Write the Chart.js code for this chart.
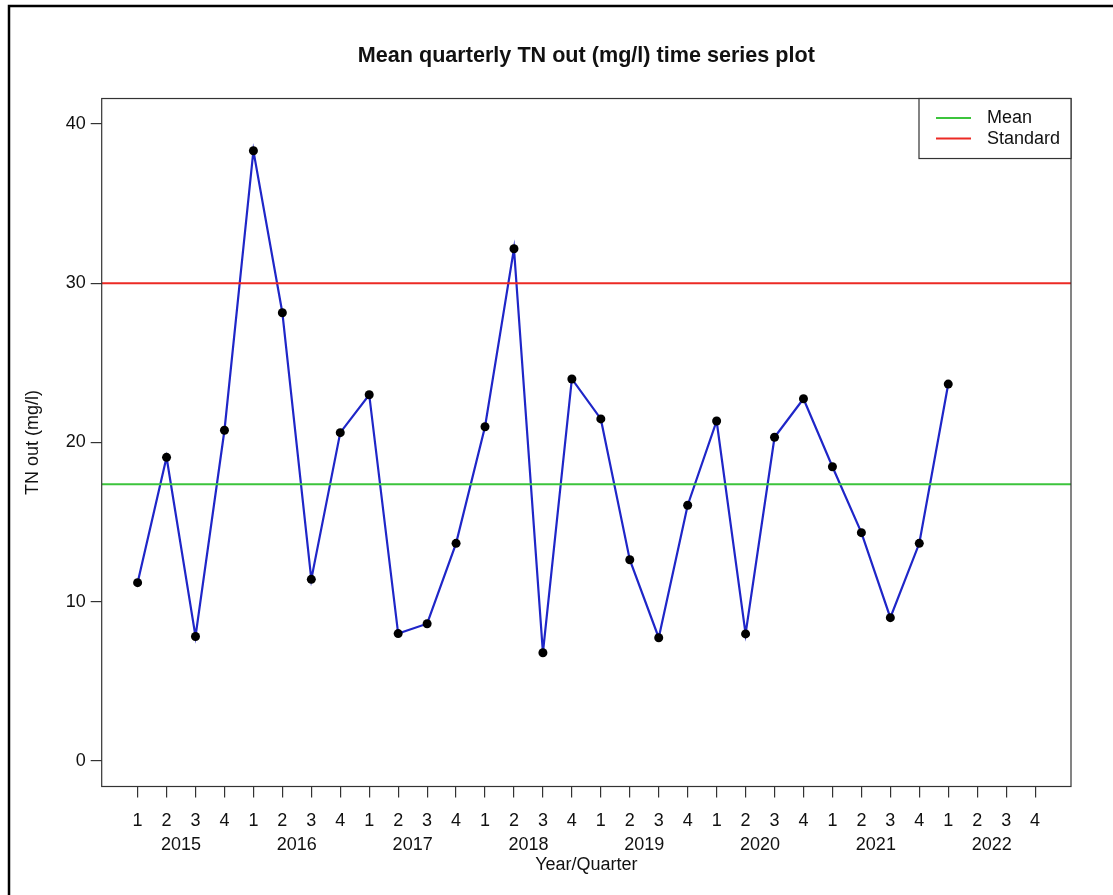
<!DOCTYPE html>
<html>
<head>
<meta charset="utf-8">
<title>Mean quarterly TN out (mg/l) time series plot</title>
<script src="https://cdn.jsdelivr.net/npm/chart.js@4.4.1/dist/chart.umd.min.js"></script>
<style>
  html, body { margin: 0; padding: 0; background: #fff; }
  canvas { display: block; }
</style>
</head>
<body>
<canvas id="tnChart" width="1113" height="895"></canvas>
<script>
// Quarter tick labels, 2015 Q1 through 2022 Q4
const quarterLabels = ['1','2','3','4','1','2','3','4','1','2','3','4','1','2','3','4',
                       '1','2','3','4','1','2','3','4','1','2','3','4','1','2','3','4'];
// Year labels, one per group of four quarters
const yearLabels = ['2015','2016','2017','2018','2019','2020','2021','2022'];
// Mean quarterly TN out (mg/l), 2015 Q1 .. 2022 Q1
const tnOut = [11.2, 19.07, 7.82, 20.77, 38.32, 28.15, 11.41, 20.62,
               23.0, 8.0, 8.62, 13.67, 20.99, 32.17, 6.8, 23.99,
               21.48, 12.64, 7.74, 16.06, 21.35, 7.98, 20.33, 22.75,
               18.48, 14.34, 9.0, 13.67, 23.67];
// Reference levels
const meanLevel = 17.38;
const standardLevel = 30;
// Y axis tick values
const yTickValues = [0, 10, 20, 30, 40];

// Axis ranges (4% extension on each side, as in base R graphics)
const xMin = 1 - 0.04 * (quarterLabels.length - 1);
const xMax = quarterLabels.length + 0.04 * (quarterLabels.length - 1);
const yMin = 0 - 0.04 * 40;
const yMax = 40 + 0.04 * 40;

const FONT = 'Arial, "Liberation Sans", Helvetica, sans-serif';
const INK = '#111';

const seriesPoints = tnOut.map((v, i) => ({ x: i + 1, y: v }));

// White page, outer frame, plot box, year labels and legend
const decorations = {
  id: 'decorations',
  beforeDraw(chart) {
    const { ctx } = chart;
    ctx.save();
    ctx.fillStyle = '#fff';
    ctx.fillRect(0, 0, chart.width, chart.height);
    ctx.strokeStyle = '#000';
    ctx.lineWidth = 2.5;
    ctx.beginPath();
    ctx.moveTo(9, chart.height);
    ctx.lineTo(9, 6);
    ctx.lineTo(chart.width, 6);
    ctx.stroke();
    ctx.restore();
  },
  afterDraw(chart) {
    const { ctx, chartArea: a } = chart;
    ctx.save();
    ctx.strokeStyle = '#333';
    ctx.lineWidth = 1.2;
    ctx.strokeRect(a.left, a.top, a.right - a.left, a.bottom - a.top);

    // legend in the top-right corner of the plot
    const items = chart.data.datasets.filter(d => d.legend);
    const boxW = 152, boxH = 60;
    const bx = a.right - boxW, by = a.top;
    ctx.fillStyle = '#fff';
    ctx.fillRect(bx, by, boxW, boxH);
    ctx.strokeRect(bx, by, boxW, boxH);
    ctx.font = '18px ' + FONT;
    ctx.textBaseline = 'middle';
    ctx.textAlign = 'left';
    items.forEach((d, i) => {
      const ly = by + 19.5 + i * 20.6;
      ctx.strokeStyle = d.borderColor;
      ctx.lineWidth = 2;
      ctx.beginPath();
      ctx.moveTo(bx + 17, ly);
      ctx.lineTo(bx + 52, ly);
      ctx.stroke();
      ctx.fillStyle = INK;
      ctx.fillText(d.label, bx + 68, ly);
    });
    ctx.restore();
  }
};

new Chart(document.getElementById('tnChart'), {
  type: 'line',
  data: {
    datasets: [
      {
        label: 'Mean',
        legend: true,
        data: [{ x: xMin, y: meanLevel }, { x: xMax, y: meanLevel }],
        borderColor: '#3cc43c',
        borderWidth: 2,
        pointRadius: 0
      },
      {
        label: 'Standard',
        legend: true,
        data: [{ x: xMin, y: standardLevel }, { x: xMax, y: standardLevel }],
        borderColor: '#ec2a24',
        borderWidth: 2,
        pointRadius: 0
      },
      {
        label: 'TN out',
        data: seriesPoints,
        borderColor: '#1f26c8',
        borderWidth: 2.2,
        pointRadius: 4.5,
        pointBackgroundColor: '#000',
        pointBorderColor: '#000',
        pointBorderWidth: 0,
        tension: 0
      }
    ]
  },
  options: {
    responsive: false,
    animation: false,
    devicePixelRatio: 1,
    layout: { padding: { left: 0, right: 42, top: 0, bottom: 0 } },
    plugins: {
      legend: { display: false },
      tooltip: { enabled: false },
      title: {
        display: true,
        fullSize: false,
        text: 'Mean quarterly TN out (mg/l) time series plot',
        color: INK,
        font: { family: FONT, size: 21.6, weight: 'bold', lineHeight: 1.2 },
        padding: { top: 43, bottom: 29.6 }
      }
    },
    scales: {
      x: {
        type: 'linear',
        position: 'bottom',
        weight: 0,
        min: xMin,
        max: xMax,
        afterBuildTicks(s) { s.ticks = quarterLabels.map((q, i) => ({ value: i + 1 })); },
        afterFit(s) { s.height = 40; },
        ticks: {
          autoSkip: false,
          maxRotation: 0,
          padding: 12.5,
          color: INK,
          font: { family: FONT, size: 18, lineHeight: 1.2 },
          callback: (v) => quarterLabels[Math.round(v) - 1]
        },
        grid: { drawOnChartArea: false, drawTicks: true, tickLength: 11, color: '#333', lineWidth: 1.2 },
        border: { display: false }
      },
      x2: {
        type: 'linear',
        position: 'bottom',
        weight: 1,
        min: xMin,
        max: xMax,
        afterBuildTicks(s) { s.ticks = yearLabels.map((y, k) => ({ value: 2.5 + 4 * k })); },
        afterFit(s) { s.height = 68.5; },
        ticks: {
          autoSkip: false,
          maxRotation: 0,
          padding: 7.5,
          color: INK,
          font: { family: FONT, size: 18, lineHeight: 1.2 },
          callback: (v) => yearLabels[Math.round((v - 2.5) / 4)]
        },
        grid: { display: false, drawTicks: false },
        border: { display: false },
        title: {
          display: true,
          text: 'Year/Quarter',
          color: INK,
          font: { family: FONT, size: 18, lineHeight: 1.2 },
          padding: { top: 0, bottom: 19.5 }
        }
      },
      y: {
        type: 'linear',
        position: 'left',
        min: yMin,
        max: yMax,
        afterBuildTicks(s) { s.ticks = yTickValues.map(v => ({ value: v })); },
        afterFit(s) { s.width = 101.7; },
        ticks: {
          padding: 5,
          color: INK,
          font: { family: FONT, size: 18, lineHeight: 1.2 }
        },
        grid: { drawOnChartArea: false, drawTicks: true, tickLength: 11, color: '#333', lineWidth: 1.2 },
        border: { display: false },
        title: {
          display: true,
          text: 'TN out (mg/l)',
          color: INK,
          font: { family: FONT, size: 18, lineHeight: 1.2 },
          padding: { top: 22, bottom: 0 }
        }
      }
    }
  },
  plugins: [decorations]
});
</script>
</body>
</html>
